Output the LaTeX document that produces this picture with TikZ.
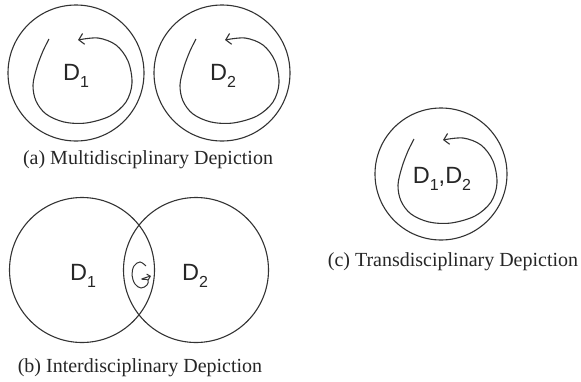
\documentclass[tikz,border=0pt]{standalone}
\usepackage{fontspec}
\setmainfont{Liberation Serif}
\newfontfamily\lsans{Liberation Sans}
\usetikzlibrary{arrows.meta}
\newcommand\dsub[1]{\raisebox{-0.28em}{\fontsize{16}{16}\selectfont #1}}
\tikzset{
  ring/.style={circle,draw=black!80,line width=1.1pt,inner sep=0pt},
  dlabel/.style={font=\lsans\fontsize{23.5}{28}\selectfont,text=black!85,inner sep=0pt},
  caption/.style={font=\fontsize{20}{24}\selectfont,text=black!85,inner sep=0pt},
  swirlline/.style={draw=black!80,line width=1.1pt,-{Straight Barb[length=5pt,width=11pt]}},
  swirl/.pic={\draw[swirlline] plot[smooth,tension=0.55] coordinates{(-27,-34) (-33,-22) (-39,-6) (-43,12) (-40,28) (-30,41) (-12,49) (10,50) (34,43) (50,29) (56,10) (52,-12) (40,-28) (22,-35) (2,-33)};}
}
\begin{document}
\begin{tikzpicture}[x=1pt,y=-1pt]
\useasboundingbox (0,0) rectangle (581,381);
% (a)
\node[ring,minimum size=136pt] (a1) at (76,73) {};
\node[ring,minimum size=136pt] (a2) at (222,73) {};
\pic at (76,73) {swirl};
\pic at (223,73) {swirl};
\node[dlabel] (la1) at (76,76) {D\dsub{1}};
\node[dlabel] (la2) at (223,76) {D\dsub{2}};
\node[caption] (capa) at (148,160) {(a) Multidisciplinary Depiction};
% (b)
\node[ring,minimum size=145pt] (b1) at (82,270) {};
\node[ring,minimum size=145pt] (b2) at (196,270) {};
\node[dlabel] (lb1) at (83,276) {D\dsub{1}};
\node[dlabel] (lb2) at (195,276) {D\dsub{2}};
\draw[draw=black!80,line width=1pt,-{Straight Barb[length=3pt,width=6pt]}] plot[smooth,tension=0.6] coordinates{(146,266) (140,262) (134,266) (132,275) (135,284) (141,288) (147,285) (148,280) (142,279) (151,276)};
\node[caption] (capb) at (140,368) {(b) Interdisciplinary Depiction};
% (c)
\node[ring,minimum size=132pt] (c1) at (441,174) {};
\pic at (441,173) {swirl};
\node[dlabel] (lc) at (442,179) {D\dsub{1},D\dsub{2}};
\node[caption] (capc) at (453,262) {(c) Transdisciplinary Depiction};
\end{tikzpicture}
\end{document}
